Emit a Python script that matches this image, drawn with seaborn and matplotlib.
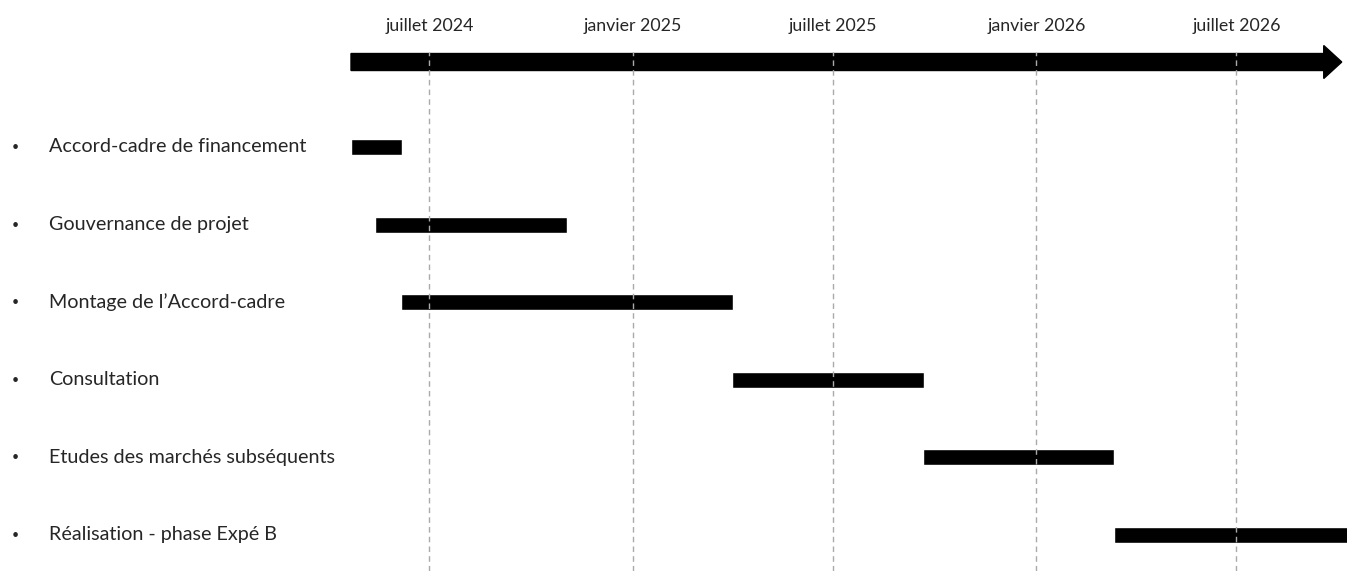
import numpy as np
import pandas as pd
import matplotlib
matplotlib.use("Agg")
import matplotlib.pyplot as plt
import matplotlib.dates as mdates
import matplotlib.transforms as mtransforms
import seaborn as sns

# planning data
tasks = [
    "Accord-cadre de financement",
    "Gouvernance de projet",
    "Montage de l\u2019Accord-cadre",
    "Consultation",
    "Etudes des march\u00e9s subs\u00e9quents",
    "R\u00e9alisation - phase Exp\u00e9 B",
]
starts = ["2024-04-21", "2024-05-13", "2024-06-05", "2025-04-01", "2025-09-20", "2026-03-12"]
ends = ["2024-06-06", "2024-11-02", "2025-04-02", "2025-09-21", "2026-03-12", "2026-12-31"]

tick_dates = ["2024-07-01", "2025-01-01", "2025-07-01", "2026-01-01", "2026-07-01"]
tick_labels = ["juillet 2024", "janvier 2025", "juillet 2025", "janvier 2026", "juillet 2026"]

timeline_start = "2024-04-21"
timeline_end = "2026-10-09"

df = pd.DataFrame({"task": tasks, "start": pd.to_datetime(starts), "end": pd.to_datetime(ends)})
df["row"] = np.arange(len(df))

sns.set_theme(style="white")
plt.rcParams["font.family"] = ["Lato", "DejaVu Sans"]

W, H = 1347, 571
fig = plt.figure(figsize=(W / 100, H / 100), dpi=100)
ax = fig.add_axes([351 / W, 0, 1 - 351 / W, (571 - 52) / H])

x0 = mdates.date2num(pd.Timestamp(timeline_start))
x1 = mdates.date2num(pd.Timestamp(timeline_end))
ax.set_xlim(x0, x1)
ax.set_ylim(5.464, -1.224)

# task bars
starts_num = mdates.date2num(df["start"])
ends_num = mdates.date2num(df["end"])
ax.barh(df["row"], ends_num - starts_num, left=starts_num, height=0.206,
        color="black", zorder=1)

# timeline arrow on top
arrow_end = x0 + (1341 - 351) / 1.1046
ax.arrow(x0, -1.095, arrow_end - x0, 0, width=0.219, head_width=0.425,
         head_length=18 / 1.1046, length_includes_head=True,
         color="black", clip_on=False, zorder=1)

# month ticks, labels on top
ax.set_xticks(mdates.date2num(pd.to_datetime(tick_dates)))
ax.set_xticklabels(tick_labels, fontsize=12.8, color="#262626")
ax.xaxis.tick_top()
ax.tick_params(axis="x", length=0, pad=13)
ax.set_yticks([])
ax.set_axisbelow(False)
ax.grid(axis="x", color="#aaaaaa", linestyle=(0, (4, 3)), linewidth=1)
sns.despine(ax=ax, left=True, bottom=True, top=True, right=True)

# bullet list of tasks on the left
trans = mtransforms.blended_transform_factory(fig.transFigure, ax.transData)
for r, name in zip(df["row"], df["task"]):
    fig.text(15 / W, r, "\u2022", transform=trans, ha="center", va="center",
             fontsize=9, color="#262626")
    fig.text(49 / W, r, name, transform=trans, ha="left", va="center",
             fontsize=14.2, color="#262626")

fig.savefig("out.png", dpi=100)
